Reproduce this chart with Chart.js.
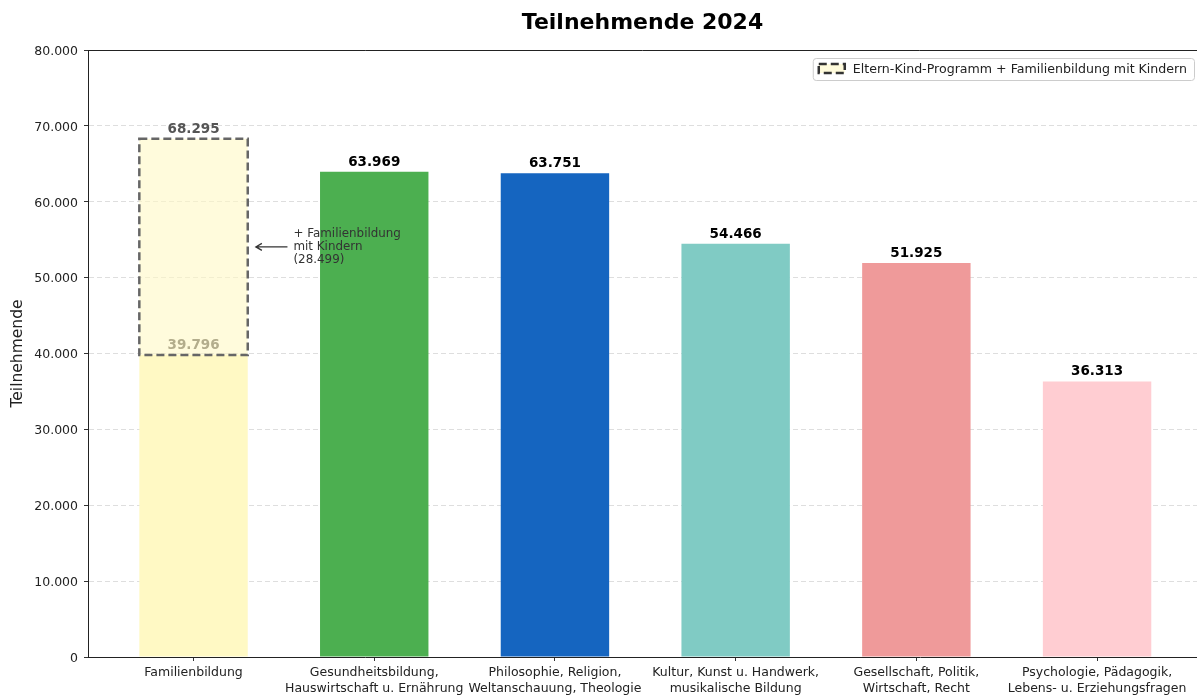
<!DOCTYPE html>
<html lang="de">
<head>
<meta charset="utf-8">
<title>Teilnehmende 2024</title>
<script src="https://cdn.jsdelivr.net/npm/chart.js@4.4.1/dist/chart.umd.min.js"></script>
<style>
  html, body { margin: 0; padding: 0; background: #fff; overflow: hidden; }
  #wrap { width: 1197px; height: 695px; }
</style>
</head>
<body>
<div id="wrap"><canvas id="chart" width="1197" height="695"></canvas></div>
<script>
// Kategorien (Zeilen der Achsenbeschriftung)
var categories = [
  ["Familienbildung"],
  ["Gesundheitsbildung,", "Hauswirtschaft u. Ernährung"],
  ["Philosophie, Religion,", "Weltanschauung, Theologie"],
  ["Kultur, Kunst u. Handwerk,", "musikalische Bildung"],
  ["Gesellschaft, Politik,", "Wirtschaft, Recht"],
  ["Psychologie, Pädagogik,", "Lebens- u. Erziehungsfragen"]
];
// Teilnehmende je Bereich
var values = [39796, 63969, 63751, 54466, 51925, 36313];
// zusätzlich: Eltern-Kind-Programm + Familienbildung mit Kindern (nur Familienbildung)
var extraValues = [28499];
var yTicks = [0, 10000, 20000, 30000, 40000, 50000, 60000, 70000, 80000];

var barColors = ['#FFF9C4', '#4CAF50', '#1565C0', '#80CBC4', '#EF9A9A', '#FFCDD2'];
var legendText = 'Eltern-Kind-Programm + Familienbildung mit Kindern';
var noteLines = ['+ Familienbildung', 'mit Kindern', '(' + fmt(extraValues[0]) + ')'];

function fmt(v) {
  return String(v).replace(/\B(?=(\d{3})+(?!\d))/g, '.');
}

Chart.defaults.font.family = "'DejaVu Sans', sans-serif";
Chart.defaults.color = '#222';

var baseData = values.map(function (v, i) { return { x: i, y: v }; });
var extraData = extraValues.map(function (v, i) {
  return { x: i, y: [values[i], values[i] + v] };
});

// Beschriftungen, gestrichelter Rahmen, Hinweis, Legende
var overlay = {
  id: 'overlay',
  afterDatasetsDraw: function (chart) {
    var ctx = chart.ctx;
    var xs = chart.scales.x, ys = chart.scales.y;
    var base = chart.getDatasetMeta(0).data;
    var ext = chart.getDatasetMeta(1).data;

    ctx.save();
    // dashed box around extension
    var b = ext[0];
    ctx.strokeStyle = '#666';
    ctx.lineWidth = 2.5;
    ctx.setLineDash([8, 4]);
    ctx.strokeRect(b.x - b.width / 2, b.y, b.width, b.base - b.y);
    ctx.setLineDash([]);

    // value labels
    ctx.font = "bold 13.5px 'DejaVu Sans'";
    ctx.textAlign = 'center';
    ctx.textBaseline = 'alphabetic';
    base.forEach(function (bar, i) {
      ctx.fillStyle = i === 0 ? '#B3AD8C' : '#000';
      ctx.fillText(fmt(values[i]), bar.x, bar.y - 6);
    });
    ctx.fillStyle = '#555';
    ctx.fillText(fmt(values[0] + extraValues[0]), b.x, b.y - 6);

    // annotation arrow
    var ay = ys.getPixelForValue(values[0] + extraValues[0] / 2);
    var tipX = xs.getPixelForValue(0.345);
    var txtX = xs.getPixelForValue(0.553);
    ctx.strokeStyle = '#333';
    ctx.lineWidth = 1.3;
    ctx.beginPath();
    ctx.moveTo(txtX - 6, ay);
    ctx.lineTo(tipX, ay);
    ctx.moveTo(tipX + 6, ay - 3.5);
    ctx.lineTo(tipX, ay);
    ctx.lineTo(tipX + 6, ay + 3.5);
    ctx.stroke();
    ctx.fillStyle = '#333';
    ctx.font = "11.9px 'DejaVu Sans'";
    ctx.textAlign = 'left';
    ctx.textBaseline = 'middle';
    noteLines.forEach(function (t, i) {
      ctx.fillText(t, txtX, ay + (i - 1) * 12.6);
    });
    ctx.restore();
  },
  afterDraw: function (chart) {
    var ctx = chart.ctx;
    var a = chart.chartArea;
    ctx.save();
    // top spine
    ctx.strokeStyle = '#222';
    ctx.lineWidth = 1;
    ctx.beginPath();
    ctx.moveTo(a.left, a.top + 0.5);
    ctx.lineTo(a.right, a.top + 0.5);
    ctx.stroke();

    // legend
    ctx.font = "12.6px 'DejaVu Sans'";
    var tw = ctx.measureText(legendText).width;
    var right = a.right - 3, top = a.top + 8;
    var w = tw + 47, h = 22;
    var left = right - w;
    ctx.fillStyle = 'rgba(255,255,255,0.85)';
    ctx.strokeStyle = '#cccccc';
    ctx.lineWidth = 1;
    ctx.beginPath();
    ctx.roundRect(left + 0.5, top + 0.5, w, h, 3);
    ctx.fill();
    ctx.stroke();
    ctx.fillStyle = 'rgba(255,249,196,0.6)';
    ctx.fillRect(left + 6, top + 6, 26, 9);
    ctx.strokeStyle = '#333';
    ctx.lineWidth = 2.5;
    ctx.setLineDash([8, 4]);
    ctx.strokeRect(left + 6, top + 6, 26, 9);
    ctx.setLineDash([]);
    ctx.fillStyle = '#222';
    ctx.textBaseline = 'middle';
    ctx.textAlign = 'left';
    ctx.fillText(legendText, left + 40, top + h / 2 + 1);
    ctx.restore();
  }
};

new Chart(document.getElementById('chart'), {
  type: 'bar',
  data: {
    datasets: [{
      label: 'Teilnehmende',
      data: baseData,
      backgroundColor: barColors,
      borderWidth: 0,
      grouped: false,
      barPercentage: 0.6,
      categoryPercentage: 1
    }, {
      label: legendText,
      data: extraData,
      backgroundColor: 'rgba(255,249,196,0.6)',
      borderWidth: 0,
      grouped: false,
      barPercentage: 0.6,
      categoryPercentage: 1
    }]
  },
  options: {
    responsive: false,
    animation: false,
    layout: { padding: 0 },
    plugins: {
      legend: { display: false },
      tooltip: { enabled: false },
      title: {
        display: true,
        text: 'Teilnehmende 2024',
        fullSize: false,
        color: '#000',
        font: { size: 22, weight: 'bold' },
        padding: { top: 10, bottom: 13.6 }
      }
    },
    scales: {
      x: {
        type: 'linear',
        offset: false,
        min: -0.584,
        max: 5.553,
        afterBuildTicks: function (scale) {
          scale.ticks = categories.map(function (c, i) { return { value: i }; });
        },
        afterFit: function (scale) { scale.height = 38; },
        ticks: {
          autoSkip: false,
          maxRotation: 0,
          padding: 4,
          color: '#222',
          font: { size: 12.5, lineHeight: 1.25 },
          callback: function (v) { return categories[v]; }
        },
        grid: {
          offset: false,
          drawOnChartArea: false,
          drawTicks: true,
          tickLength: 4,
          tickColor: '#333'
        },
        border: { display: true, color: '#222', width: 1 }
      },
      y: {
        min: 0,
        max: 80000,
        afterBuildTicks: function (scale) {
          scale.ticks = yTicks.map(function (v) { return { value: v }; });
        },
        afterFit: function (scale) { scale.width = 88; },
        ticks: {
          padding: 6,
          labelOffset: 1.5,
          color: '#222',
          font: { size: 12.5 },
          callback: function (v) { return fmt(v); }
        },
        grid: {
          color: '#dedede',
          lineWidth: 1,
          tickLength: 4,
          tickColor: '#333'
        },
        border: { display: true, color: '#222', width: 1, dash: [5, 3] },
        title: {
          display: true,
          text: 'Teilnehmende',
          color: '#222',
          font: { size: 15.5 },
          padding: { top: 9, bottom: 0 }
        }
      }
    }
  },
  plugins: [overlay]
});
</script>
</body>
</html>
